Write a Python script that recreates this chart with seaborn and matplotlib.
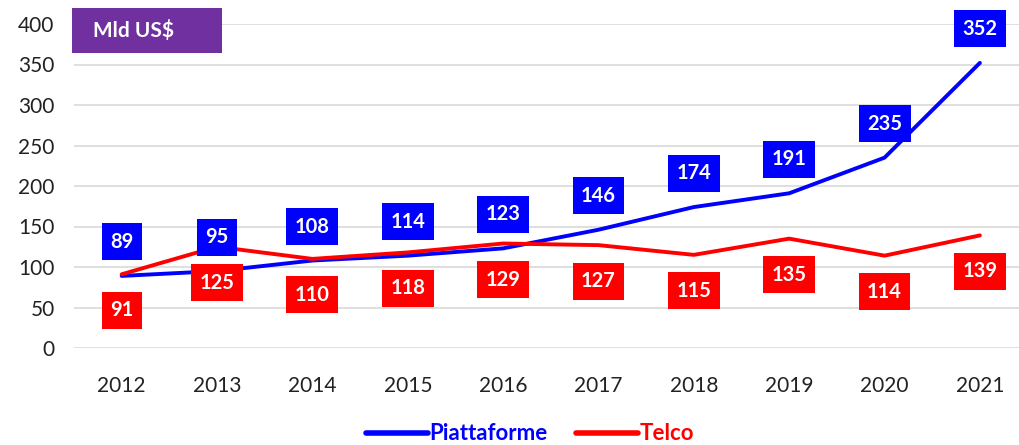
import matplotlib
matplotlib.use("Agg")
import matplotlib.pyplot as plt
import seaborn as sns
import pandas as pd
from matplotlib.lines import Line2D
from matplotlib.patches import Rectangle

years = ["2012", "2013", "2014", "2015", "2016", "2017", "2018", "2019", "2020", "2021"]
piattaforme = [89, 95, 108, 114, 123, 146, 174, 191, 235, 352]
telco = [91, 125, 110, 118, 129, 127, 115, 135, 114, 139]

blue = "#0000FF"
red = "#FF0000"

df = pd.DataFrame({"year": years * 2,
                   "value": piattaforme + telco,
                   "serie": ["Piattaforme"] * len(years) + ["Telco"] * len(years)})

sns.set_theme(style="white")
plt.rcParams["font.family"] = ["Lato", "DejaVu Sans"]

fig = plt.figure(figsize=(10.19, 4.45), dpi=100)
ax = fig.add_axes([74 / 1019, 97 / 445, 945 / 1019, 324 / 445])

sns.lineplot(data=df, x="year", y="value", hue="serie", palette={"Piattaforme": blue, "Telco": red},
             linewidth=2.8, legend=False, ax=ax, sort=False)

ax.set_ylim(0, 400)
ax.set_xlim(-0.5, 9.41)
ax.set_yticks(range(0, 401, 50))
ax.yaxis.grid(True, color="#d9d9d9", linewidth=1.2)
ax.xaxis.grid(False)
for s in ax.spines.values():
    s.set_visible(False)
ax.set_xlabel("")
ax.set_ylabel("")
ax.tick_params(axis="y", labelsize=15, colors="#222222", pad=14, length=0)
ax.tick_params(axis="x", labelsize=15, colors="#222222", pad=20, length=0)

# data labels in boxes
for i, v in enumerate(piattaforme):
    ax.annotate(str(v), (i, v), xytext=(0, 34), textcoords="offset pixels",
                ha="center", va="center", color="white", fontsize=14.5, fontweight="bold",
                bbox=dict(boxstyle="square,pad=0.42", fc=blue, ec="none"))
for i, v in enumerate(telco):
    ax.annotate(str(v), (i, v), xytext=(0, -36), textcoords="offset pixels",
                ha="center", va="center", color="white", fontsize=14.5, fontweight="bold",
                bbox=dict(boxstyle="square,pad=0.42", fc=red, ec="none"))

# unit box
fig.patches.append(Rectangle((72 / 1019, 1 - 53 / 445), 150 / 1019, 45 / 445,
                             transform=fig.transFigure, fc="#7030A0", ec="none", zorder=5))
fig.text(93 / 1019, 1 - 31 / 445, "Mld US$", ha="left", va="center", color="white",
         fontsize=15, fontweight="bold", zorder=6)

handles = [Line2D([0], [0], color=blue, linewidth=4),
           Line2D([0], [0], color=red, linewidth=4)]
leg = fig.legend(handles, ["Piattaforme", "Telco"], loc="center", bbox_to_anchor=(0.52, 1 - 434 / 445),
                 ncol=2, frameon=False, handlelength=2.8, handletextpad=0.05,
                 columnspacing=1.3, prop={"weight": "bold", "size": 16})
for t, c in zip(leg.get_texts(), [blue, red]):
    t.set_color(c)

fig.savefig("out.png", dpi=100)
